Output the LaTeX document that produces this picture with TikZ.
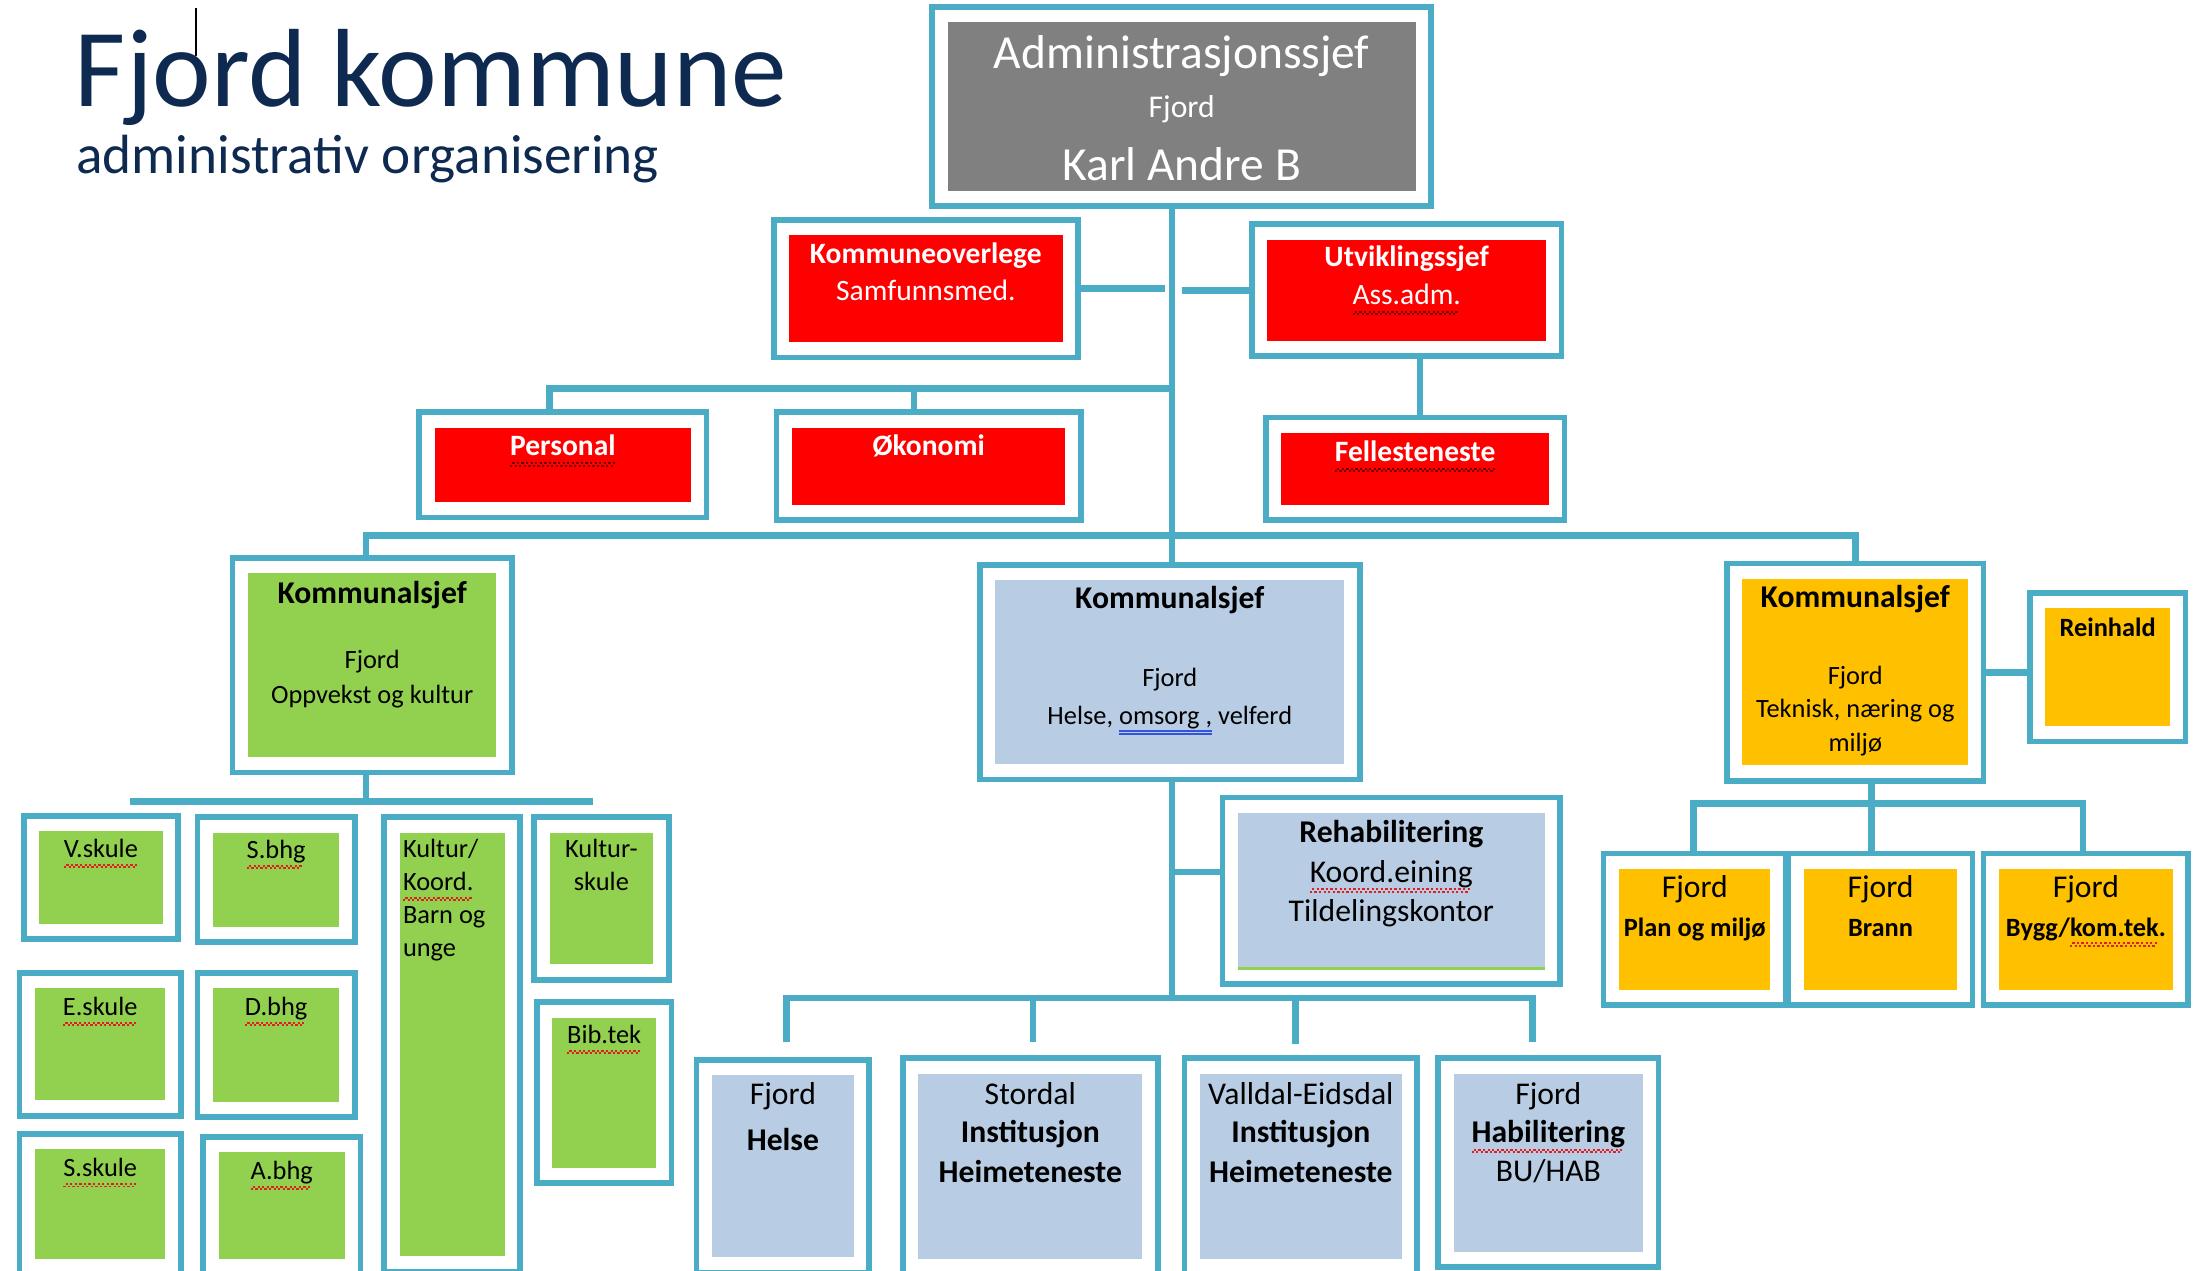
\documentclass[tikz,border=0pt]{standalone}
\usepackage{fontspec}
\setmainfont{Carlito}
\usetikzlibrary{fit,backgrounds,positioning}

\definecolor{frame}{HTML}{4BACC6}
\definecolor{redbox}{HTML}{FF0000}
\definecolor{graybox}{HTML}{808080}
\definecolor{greenbox}{HTML}{92D050}
\definecolor{bluebox}{HTML}{B8CCE4}
\definecolor{orangebox}{HTML}{FFC000}
\definecolor{navy}{HTML}{0E2A50}
\definecolor{squig}{HTML}{E02020}
\definecolor{darksq}{HTML}{700000}
\definecolor{gblue}{HTML}{3355DD}

% spell check marks
\newsavebox\sqbox
\newcommand\sq[2][squig]{\sbox\sqbox{#2}\rlap{\textcolor{#1}{\leaders\hbox{\rule[-3pt]{.65pt}{.55pt}\rule[-2.35pt]{.65pt}{.55pt}}\hskip\wd\sqbox}}\usebox\sqbox}
\newcommand\dbl[1]{\sbox\sqbox{#1}\rlap{\textcolor{gblue}{\rule[-2.9pt]{\wd\sqbox}{.4pt}}}\rlap{\textcolor{gblue}{\rule[-2pt]{\wd\sqbox}{.4pt}}}\usebox\sqbox}

\newcommand\fsbig{\fontsize{13.5}{14}\selectfont}
\newcommand\fsmid{\fontsize{9}{11.1}\selectfont}
\newcommand\fsred{\fontsize{8.4}{10.3}\selectfont}
\newcommand\fssmall{\fontsize{7.5}{9.4}\selectfont}
\newcommand\fskom{\fontsize{9}{10}\selectfont\bfseries}

\tikzset{
  orgbox/.style={rectangle,fill=#1,draw=white,line width=3.6pt,inner sep=1.8pt,
    preaction={draw=frame,line width=6.8pt}},
  link/.style={draw=frame,line width=1.9pt},
  txt/.style={align=center,anchor=north,inner sep=0pt},
}

\begin{document}
\begin{tikzpicture}[x=0.014cm,y=-0.014cm]
  \useasboundingbox (0,0) rectangle (1568,906);
  \clip (0,0) rectangle (1568,906);

  % title
  \node[anchor=base west,inner sep=0pt,text=navy,font=\fontsize{31.6}{32}\selectfont] (title) at (53,76) {Fjord kommune};
  \node[anchor=base west,inner sep=0pt,text=navy,font=\fontsize{15.7}{16}\selectfont] (subtitle) at (54,124) {administrativ organisering};
  \draw[line width=0.5pt] (140,6) -- (140,40);

  % top level
  \node[orgbox=graybox,fit={(676,16) (1010,136)}] (adm) {};
  \node[txt,text=white,font=\fsbig] (admt) at (843,25) {Administrasjonssjef\\{\fontsize{9}{11}\selectfont Fjord}\\[3.8pt]Karl Andre B};

  \node[orgbox=redbox,fit={(563,168) (758,244)}] (kov) {};
  \node[txt,text=white,font=\fsred] (kovt) at (660.5,173) {\textbf{Kommuneoverlege}\\Samfunnsmed.};
  \node[orgbox=redbox,fit={(904,171) (1103,243)}] (utv) {};
  \node[txt,text=white,font=\fsred] (utvt) at (1003.5,175) {\textbf{Utviklingssjef}\\[0.4pt]\sq[darksq]{Ass.adm.}};

  \node[orgbox=redbox,fit={(310,305) (493,358)}] (pers) {};
  \node[txt,text=white,font=\fsred] (perst) at (401.5,310) {\textbf{\sq[darksq]{Personal}}};
  \node[orgbox=redbox,fit={(565,305) (760,360)}] (oko) {};
  \node[txt,text=white,font=\fsred] (okot) at (662.5,310) {\textbf{Økonomi}};
  \node[orgbox=redbox,fit={(914,309) (1105,360)}] (fell) {};
  \node[txt,text=white,font=\fsred] (fellt) at (1009.5,314) {\textbf{\sq[darksq]{Fellesteneste}}};

  % kommunalsjefar
  \node[orgbox=greenbox,fit={(177,409) (354,540)}] (ks1) {};
  \node[txt,font=\fontsize{7.5}{10}\selectfont] (ks1t) at (265.5,414) {{\fskom Kommunalsjef}\\[8.6pt]Fjord\\Oppvekst og kultur};
  \node[orgbox=bluebox,fit={(710,414) (959,545)}] (ks2) {};
  \node[txt,font=\fontsize{7.5}{10}\selectfont] (ks2t) at (834.5,418) {{\fskom Kommunalsjef}\\[12.2pt]Fjord\\[0.7pt]Helse, \dbl{omsorg ,} velferd};
  \node[orgbox=orangebox,fit={(1243,413) (1404,546)}] (ks3) {};
  \node[txt,font=\fontsize{7.5}{9.6}\selectfont] (ks3t) at (1323.5,417) {{\fskom Kommunalsjef}\\[12.2pt]Fjord\\Teknisk, næring og\\miljø};
  \node[orgbox=orangebox,fit={(1459,434) (1548,518)}] (rein) {};
  \node[txt,font=\fssmall] (reint) at (1503.5,440) {\textbf{Reinhald}};

  % oppvekst og kultur
  \node[orgbox=greenbox,fit={(28,593) (116,659)}] (vsk) {};
  \node[txt,font=\fssmall] (vskt) at (72,598) {\sq{V.skule}};
  \node[orgbox=greenbox,fit={(152,594) (242,661)}] (sbhg) {};
  \node[txt,font=\fssmall] (sbhgt) at (197,599) {\sq{S.bhg}};
  \node[orgbox=greenbox,fit={(285,594) (360,896)}] (kult) {};
  \node[txt,font=\fssmall,align=left,anchor=north west] (kultt) at (287,598) {Kultur/\\\sq{Koord.}\\Barn og\\unge};
  \node[orgbox=greenbox,fit={(392,594) (466,688)}] (ksk) {};
  \node[txt,font=\fssmall] (kskt) at (429,598) {Kultur-\\skule};
  \node[orgbox=greenbox,fit={(25,705) (118,785)}] (esk) {};
  \node[txt,font=\fssmall] (eskt) at (71.5,711) {\sq{E.skule}};
  \node[orgbox=greenbox,fit={(152,705) (242,786)}] (dbhg) {};
  \node[txt,font=\fssmall] (dbhgt) at (197,711) {\sq{D.bhg}};
  \node[orgbox=greenbox,fit={(394,726) (468,833)}] (bib) {};
  \node[txt,font=\fssmall] (bibt) at (431,731) {\sq{Bib.tek}};
  \node[orgbox=greenbox,fit={(25,820) (118,898)}] (ssk) {};
  \node[txt,font=\fssmall] (sskt) at (71.5,826) {\sq{S.skule}};
  \node[orgbox=greenbox,fit={(156,822) (246,898)}] (abhg) {};
  \node[txt,font=\fssmall] (abhgt) at (201,828) {\sq{A.bhg}};

  % helse, omsorg, velferd
  \node[orgbox=bluebox,fit={(883,580) (1102,691)}] (rehab) {};
  \draw[greenbox,line width=0.8pt] ([shift={(3.6pt,3.6pt)}]rehab.south west) -- ([shift={(-3.6pt,3.6pt)}]rehab.south east);
  \node[txt,font=\fsmid] (rehabt) at (992.5,585) {\textbf{Rehabilitering}\\\sq{Koord.eining}\\Tildelingskontor};
  \node[orgbox=bluebox,fit={(508,767) (609,897)}] (hel) {};
  \node[txt,font=\fsmid] (helt) at (558.5,772) {Fjord\\[2pt]\textbf{Helse}};
  \node[orgbox=bluebox,fit={(655,766) (815,898)}] (sto) {};
  \node[txt,font=\fontsize{9}{10.7}\selectfont] (stot) at (735,772) {Stordal\\\textbf{Institusjon}\\[0.8pt]\textbf{Heimeteneste}};
  \node[orgbox=bluebox,fit={(856,766) (1000,898)}] (val) {};
  \node[txt,font=\fontsize{9}{10.7}\selectfont] (valt) at (928,772) {Valldal-Eidsdal\\\textbf{Institusjon}\\[0.8pt]\textbf{Heimeteneste}};
  \node[orgbox=bluebox,fit={(1037,766) (1172,893)}] (hab) {};
  \node[txt,font=\fontsize{9}{10.7}\selectfont] (habt) at (1104.5,772) {Fjord\\\textbf{\sq{Habilitering}}\\[0.4pt]BU/HAB};

  % teknisk, naering og miljo
  \node[orgbox=orangebox,fit={(1155,620) (1263,706)}] (plan) {};
  \node[txt,font=\fontsize{9}{11}\selectfont] (plant) at (1209,624) {Fjord\\{\fontsize{7.5}{9}\selectfont\bfseries Plan og miljø}};
  \node[orgbox=orangebox,fit={(1287,620) (1396,706)}] (brann) {};
  \node[txt,font=\fontsize{9}{11}\selectfont] (brannt) at (1341.5,624) {Fjord\\{\fontsize{7.5}{9}\selectfont\bfseries Brann}};
  \node[orgbox=orangebox,fit={(1426,620) (1550,706)}] (bygg) {};
  \node[txt,font=\fontsize{9}{11}\selectfont] (byggt) at (1488,624) {Fjord\\{\fontsize{7.5}{9}\selectfont\bfseries Bygg/\sq{kom.tek}.}};

  % connectors
  \coordinate (trunk) at (836,382);
  \coordinate (lcol) at (261,382);
  \coordinate (pbus) at (836,277);
  \coordinate (pdrop) at (392,277);
  \coordinate (odrop) at (652,277);
  \coordinate (gapl) at (831,204);
  \coordinate (gapr) at (843,204);
  \coordinate (fdrop) at (1013,280);
  \coordinate (gbus) at (261,572);
  \coordinate (gbusl) at (93,572);
  \coordinate (gbusr) at (423,572);
  \coordinate (rlink) at (836,622);
  \coordinate (bbus) at (836,712);
  \coordinate (d1) at (561,743);
  \coordinate (d2) at (737,743);
  \coordinate (d3) at (924,745);
  \coordinate (d4) at (1093,743);
  \coordinate (o1) at (1208,573);
  \coordinate (o2) at (1335,573);
  \coordinate (o3) at (1486,573);
  \begin{scope}[on background layer]
    \draw[link] (adm.south -| trunk) -- (ks2.north -| trunk);
    \draw[link] (kov.east) -- (kov.east -| gapl);
    \draw[link] (utv.west) -- (utv.west -| gapr);
    \draw[link] (pers.north -| pdrop) -- (pdrop) -- (pbus);
    \draw[link] (oko.north -| odrop) -- (odrop);
    \draw[link] (utv.south -| fdrop) -- (fell.north -| fdrop);
    \draw[link] (ks1.north -| lcol) -- (lcol) -| (ks3.north);
    \draw[link] (ks1.south -| gbus) -- (gbus);
    \draw[link] (gbusl) -- (gbusr);
    \draw[link] (ks2.south -| trunk) -- (bbus);
    \draw[link] (rlink) -- (rehab.west |- rlink);
    \draw[link] (d1) |- (bbus) -| (d4);
    \draw[link] (d2) -- (d2 |- bbus);
    \draw[link] (d3) -- (d3 |- bbus);
    \draw[link] (ks3.south -| o2) -- (brann.north -| o2);
    \draw[link] (plan.north -| o1) |- (o2) -| (bygg.north -| o3);
    \draw[link] (ks3.east) -- (rein.west |- ks3.east);
  \end{scope}
\end{tikzpicture}
\end{document}
